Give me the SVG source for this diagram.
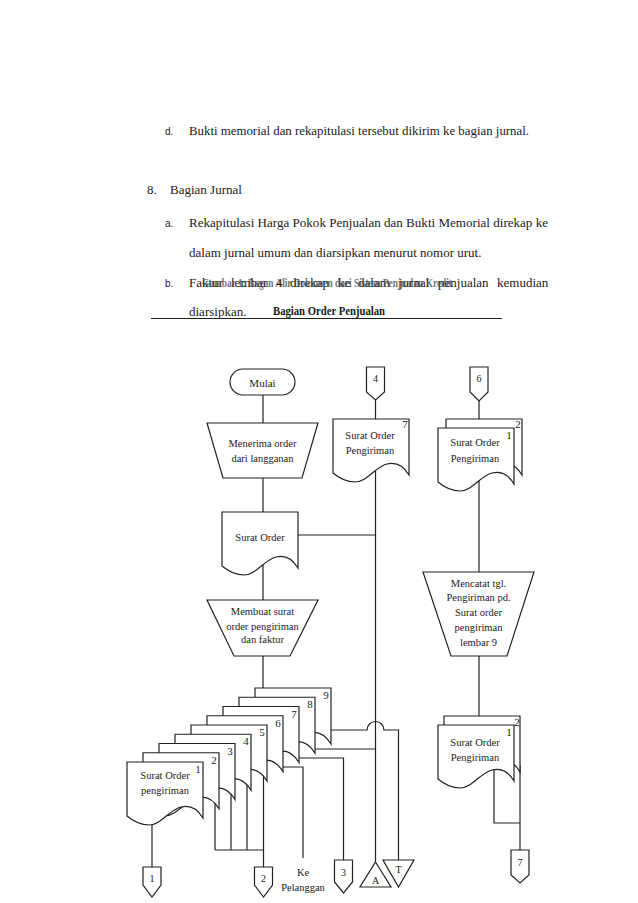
<svg xmlns="http://www.w3.org/2000/svg" xmlns:xlink="http://www.w3.org/1999/xlink" width="638" height="903" viewBox="0 0 638 903">
<style>
.body{font-family:"Liberation Serif","Times New Roman",serif;font-size:13px;fill:#1a1a1a}
.lbl{font-family:"Liberation Sans",Arial,sans-serif;font-size:10px;fill:#1a1a1a}
.fc{font-family:"Liberation Serif","Times New Roman",serif;font-size:10.5px;fill:#1a1a1a;text-anchor:middle}
.num{font-family:"Liberation Serif","Times New Roman",serif;font-size:11px;fill:#1a1a1a;text-anchor:middle}
.shape{fill:#fff;stroke:#222;stroke-width:1.2}
.ln{fill:none;stroke:#222;stroke-width:1.2}
</style>
<defs>
<path id="doc" d="M0,0 H76 V56 C70,46 62,43 54,45 C42,48 34,63 22,63 C13,63 6,59 0,54 Z"/>
</defs>
<rect width="638" height="903" fill="#fff"/>

<g id="text-page">
<text class="lbl" x="165" y="135">d.</text>
<text class="body" x="189" y="135" textLength="340" lengthAdjust="spacingAndGlyphs">Bukti memorial dan rekapitulasi tersebut dikirim ke bagian jurnal.</text>
<text class="body" x="147" y="194">8.</text>
<text class="body" x="170" y="194">Bagian Jurnal</text>
<text class="lbl" x="165" y="227">a.</text>
<text class="body" x="189" y="227" textLength="359" lengthAdjust="spacingAndGlyphs">Rekapitulasi Harga Pokok Penjualan dan Bukti Memorial direkap ke</text>
<text class="body" x="189" y="257">dalam jurnal umum dan diarsipkan menurut nomor urut.</text>
<text class="lbl" x="165" y="287">b.</text>
<text class="body" y="287"><tspan x="189">Faktur</tspan><tspan x="231">lembar</tspan><tspan x="276">4</tspan><tspan x="290">direkap</tspan><tspan x="338">ke</tspan><tspan x="358">dalam</tspan><tspan x="399">jurnal</tspan><tspan x="438">penjualan</tspan><tspan x="497">kemudian</tspan></text>
<text x="202" y="287" textLength="250" lengthAdjust="spacingAndGlyphs" style="font-family:'Liberation Serif',serif;font-size:12px;font-weight:bold;fill:#444;opacity:0.75">Gambar 1: Bagan Alir Dokumen dari Sistem Penjualan Kredit</text>
<text class="body" x="189" y="316">diarsipkan.</text>
<text x="273" y="315" textLength="112" lengthAdjust="spacingAndGlyphs" style="font-family:'Liberation Serif',serif;font-size:11.5px;font-weight:bold;fill:#1a1a1a">Bagian Order Penjualan</text>
<line x1="151" y1="318.5" x2="502" y2="318.5" stroke="#222" stroke-width="1.2"/>
</g>

<g id="connectors" class="ln">
<path d="M263,395 V423"/>
<path d="M263,478 V512"/>
<path d="M263,562 V600"/>
<path d="M263,656 V688"/>
<path d="M298,535 H375.5"/>
<path d="M375.5,400 V419"/>
<path d="M375.5,465 V862"/>
<path d="M152,810 V867"/>
<path d="M215,800 V850"/>
<path d="M231,790 V850"/>
<path d="M247,780 V850"/>
<path d="M263.5,770 V867"/>
<path d="M215,850 H263.5"/>
<path d="M280,767 H303 V858"/>
<path d="M296,758 H343.5 V860"/>
<path d="M312,749 H375.5"/>
<path d="M328,730 H367 A8.5,8.5 0 0 1 384,730 H398.5 V860"/>
<path d="M479,401 V419"/>
<path d="M479,470 V572"/>
<path d="M479,656 V716"/>
<path d="M494,765 V823 H520"/>
<path d="M520,765 V850"/>
</g>

<g id="node-mulai">
<rect class="shape" x="230" y="369" width="65" height="26" rx="13"/>
<text class="fc" x="262.5" y="387" style="font-size:11px">Mulai</text>
</g>

<g id="node-menerima">
<path class="shape" d="M207,423 H318 L302,478 H223 Z"/>
<text class="fc" x="262.5" y="447">Menerima order</text>
<text class="fc" x="262.5" y="462">dari langganan</text>
</g>

<g id="node-surat-order">
<use href="#doc" class="shape" x="222" y="512"/>
<text class="fc" x="260" y="541">Surat Order</text>
</g>

<g id="node-membuat">
<path class="shape" d="M207,600 H318 L290,656 H234 Z"/>
<text class="fc" x="262.5" y="615">Membuat surat</text>
<text class="fc" x="262.5" y="630">order pengiriman</text>
<text class="fc" x="262.5" y="643">dan faktur</text>
</g>

<g id="node-stack">
<use href="#doc" class="shape" x="255" y="688"/>
<text class="num" x="326" y="699">9</text>
<use href="#doc" class="shape" x="239" y="697.25"/>
<text class="num" x="310" y="708">8</text>
<use href="#doc" class="shape" x="223" y="706.5"/>
<text class="num" x="294" y="717.5">7</text>
<use href="#doc" class="shape" x="207" y="715.75"/>
<text class="num" x="278" y="726.5">6</text>
<use href="#doc" class="shape" x="191" y="725"/>
<text class="num" x="262" y="736">5</text>
<use href="#doc" class="shape" x="175" y="734.25"/>
<text class="num" x="246" y="745">4</text>
<use href="#doc" class="shape" x="159" y="743.5"/>
<text class="num" x="230" y="754.5">3</text>
<use href="#doc" class="shape" x="143" y="752.75"/>
<text class="num" x="214" y="763.5">2</text>
<use href="#doc" class="shape" x="127" y="762"/>
<text class="num" x="198" y="773">1</text>
<text class="fc" x="165" y="779">Surat Order</text>
<text class="fc" x="165" y="794">pengiriman</text>
</g>

<g id="node-conn4">
<path class="shape" d="M366.5,367 H384.5 V392 L375.5,400 L366.5,392 Z"/>
<text class="num" x="375.5" y="382" style="font-size:10px">4</text>
</g>

<g id="node-sop7">
<use href="#doc" class="shape" x="333" y="419"/>
<text class="num" x="405" y="428">7</text>
<text class="fc" x="370" y="439">Surat Order</text>
<text class="fc" x="370" y="454">Pengiriman</text>
</g>

<g id="node-conn6">
<path class="shape" d="M470,367 H488 V392 L479,401 L470,392 Z"/>
<text class="num" x="479" y="382" style="font-size:10px">6</text>
</g>

<g id="node-sop-top">
<use href="#doc" class="shape" x="446" y="419"/>
<text class="num" x="518" y="428">2</text>
<use href="#doc" class="shape" x="438" y="428"/>
<text class="num" x="509" y="439">1</text>
<text class="fc" x="475" y="446">Surat Order</text>
<text class="fc" x="475" y="462">Pengiriman</text>
</g>

<g id="node-mencatat">
<path class="shape" d="M423,572 H534 L507,656 H451 Z"/>
<text class="fc" x="478.5" y="587">Mencatat tgl.</text>
<text class="fc" x="478.5" y="601">Pengiriman pd.</text>
<text class="fc" x="478.5" y="616">Surat order</text>
<text class="fc" x="478.5" y="631">pengiriman</text>
<text class="fc" x="478.5" y="646">lembar 9</text>
</g>

<g id="node-sop-bottom">
<use href="#doc" class="shape" x="444" y="716"/>
<text class="num" x="517" y="726">2</text>
<use href="#doc" class="shape" x="438" y="725"/>
<text class="num" x="509" y="736">1</text>
<text class="fc" x="475" y="746">Surat Order</text>
<text class="fc" x="475" y="761">Pengiriman</text>
</g>

<g id="node-conn7">
<path class="shape" d="M511,850 H529 V875 L520,883 L511,875 Z"/>
<text class="num" x="520" y="866" style="font-size:10px">7</text>
</g>

<g id="node-conn1">
<path class="shape" d="M143,867 H161 V885 L152,897 L143,885 Z"/>
<text class="num" x="152" y="882" style="font-size:10px">1</text>
</g>

<g id="node-conn2">
<path class="shape" d="M254.5,867 H272.5 V885 L263.5,897 L254.5,885 Z"/>
<text class="num" x="263.5" y="882" style="font-size:10px">2</text>
</g>

<g id="node-ke-pelanggan">
<text class="fc" x="303" y="876">Ke</text>
<text class="fc" x="303" y="891">Pelanggan</text>
</g>

<g id="node-conn3">
<path class="shape" d="M334.5,860 H352.5 V882 L343.5,893 L334.5,882 Z"/>
<text class="num" x="343.5" y="876" style="font-size:10px">3</text>
</g>

<g id="node-A">
<path class="shape" d="M375.5,862 L391,887 L360,887 Z"/>
<text class="num" x="375.5" y="884" style="font-size:10px">A</text>
</g>

<g id="node-T">
<path class="shape" d="M383,860 H414 L398.5,887 Z"/>
<text class="num" x="398.5" y="873" style="font-size:10px">T</text>
</g>
</svg>
